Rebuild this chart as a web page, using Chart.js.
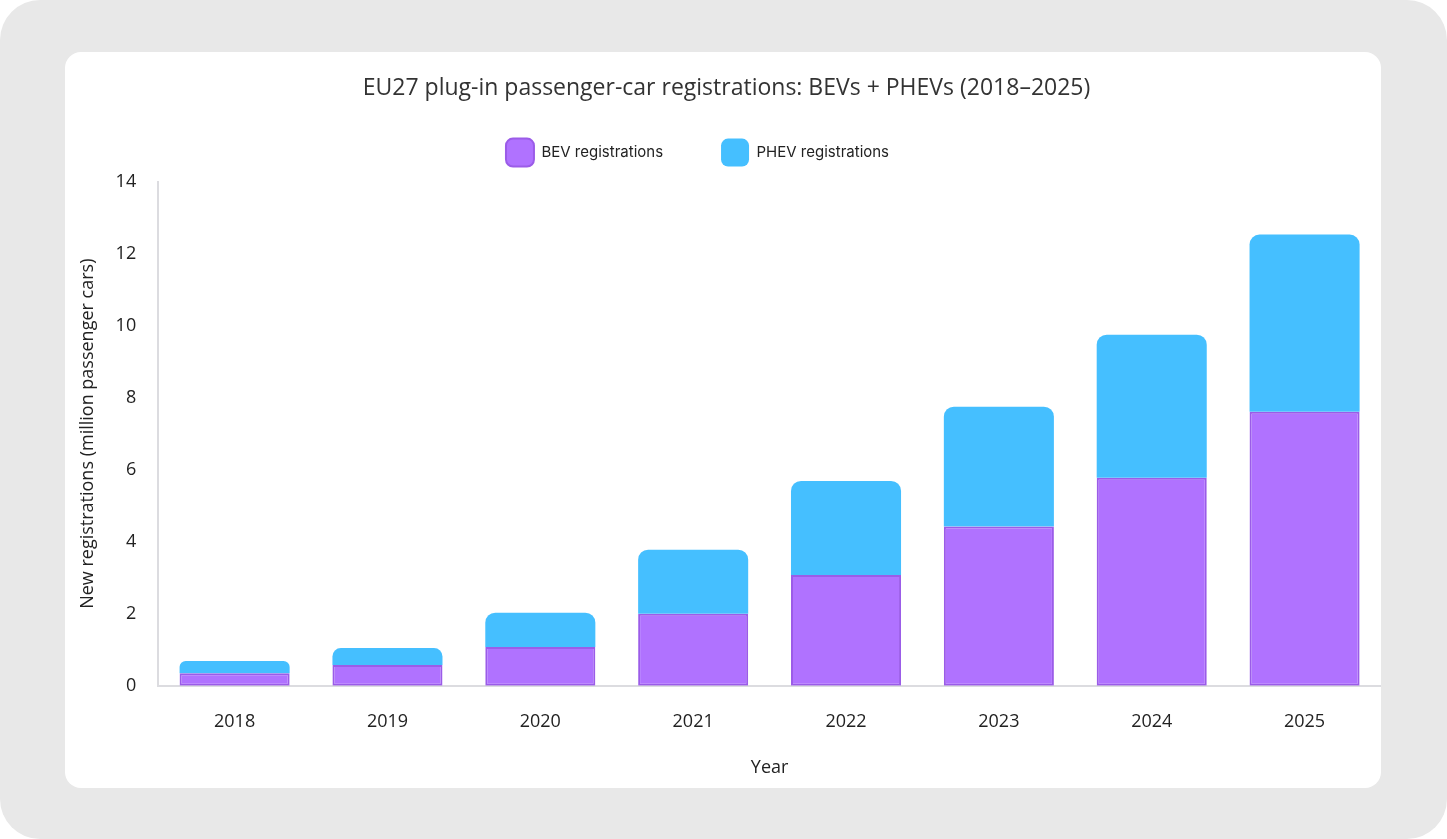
<!DOCTYPE html>
<html>
<head>
<meta charset="utf-8">
<script src="https://cdn.jsdelivr.net/npm/chart.js@4.4.1/dist/chart.umd.min.js"></script>
<style>
    html, body { margin: 0; padding: 0; background: #ffffff; }
    .page {
        position: absolute; left: 0; top: 0; width: 1447px; height: 839px;
        background: #e8e8e8; border-radius: 40px;
    }
    .card {
        position: absolute; left: 65px; top: 52px; width: 1316px; height: 736px;
        background: #ffffff; border-radius: 16px;
    }
    #chartBox { position: absolute; left: 0; top: 0; width: 1316px; height: 736px; }
</style>
</head>
<body>
<div class="page">
    <div class="card">
        <div id="chartBox"><canvas id="regChart"></canvas></div>
    </div>
</div>
<script>
// values in million passenger cars
const years = ['2018', '2019', '2020', '2021', '2022', '2023', '2024', '2025'];
const bevValues = [0.35, 0.58, 1.08, 2.00, 3.08, 4.42, 5.78, 7.61];
const phevValues = [0.34, 0.47, 0.95, 1.78, 2.61, 3.33, 3.97, 4.92];
const yTicks = [0, 2, 4, 6, 8, 10, 12, 14];

const baseFamily = "'Open Sans', 'Noto Sans', sans-serif";
const tickFont = { family: baseFamily, size: 18 };

// a bit of room under the legend, and the legend row sits a little left of centre
const legendTweak = {
    id: 'legendTweak',
    beforeLayout(chart) {
        const lg = chart.legend;
        if (!lg || lg._tweaked) return;
        const fit = lg.fit;
        lg.fit = function () {
            fit.call(this);
            this.height += 5;
        };
        lg._tweaked = true;
    },
    afterLayout(chart) {
        const lg = chart.legend;
        if (!lg) return;
        lg.left -= 29;
        lg.right -= 29;
    }
};

function buildChart() {
    const ctx = document.getElementById('regChart').getContext('2d');

    new Chart(ctx, {
        type: 'bar',
        data: {
            labels: years,
            datasets: [
                {
                    label: 'BEV registrations',
                    data: bevValues,
                    backgroundColor: '#b072ff',
                    borderColor: '#9b5ce8',
                    borderWidth: 2,
                    borderSkipped: false,
                    borderRadius: 0
                },
                {
                    label: 'PHEV registrations',
                    data: phevValues,
                    backgroundColor: '#45bfff',
                    borderColor: '#45bfff',
                    borderWidth: 0,
                    borderSkipped: false,
                    borderRadius: { topLeft: 10, topRight: 10, bottomLeft: 0, bottomRight: 0 }
                }
            ]
        },
        plugins: [legendTweak],
        options: {
            responsive: true,
            maintainAspectRatio: false,
            animation: false,
            categoryPercentage: 0.8,
            barPercentage: 0.9,
            layout: { padding: { left: 7, right: 0, top: 23, bottom: 9 } },
            plugins: {
                title: {
                    display: true,
                    text: 'EU27 plug-in passenger-car registrations: BEVs + PHEVs (2018\u20132025)',
                    color: '#333333',
                    font: { family: baseFamily, size: 23, weight: 'normal' },
                    padding: { top: 0, bottom: -22 }
                },
                legend: {
                    display: true,
                    position: 'top',
                    labels: {
                        boxWidth: 28,
                        boxHeight: 28,
                        useBorderRadius: true,
                        borderRadius: 7,
                        padding: 58,
                        color: '#222222',
                        font: { family: "Inter, Roboto, sans-serif", size: 15 }
                    }
                },
                tooltip: { enabled: false }
            },
            scales: {
                x: {
                    stacked: true,
                    grid: { display: false, drawTicks: false },
                    border: { display: true, color: '#dcdce0', width: 2 },
                    ticks: { color: '#222222', font: tickFont, padding: 25 },
                    title: {
                        display: true,
                        text: 'Year',
                        color: '#222222',
                        font: { family: baseFamily, size: 18 },
                        padding: { top: 0, bottom: 0 }
                    }
                },
                y: {
                    stacked: true,
                    min: 0,
                    max: 14,
                    afterBuildTicks: axis => { axis.ticks = yTicks.map(v => ({ value: v })); },
                    grid: { display: false, drawTicks: false },
                    border: { display: true, color: '#dcdce0', width: 2 },
                    ticks: { color: '#222222', font: tickFont, padding: 22 },
                    title: {
                        display: true,
                        text: 'New registrations (million passenger cars)',
                        color: '#222222',
                        font: { family: baseFamily, size: 18 },
                        padding: { top: 5, bottom: -5 }
                    }
                }
            }
        }
    });
}

document.addEventListener('DOMContentLoaded', () => {
    buildChart();
});
</script>
</body>
</html>
